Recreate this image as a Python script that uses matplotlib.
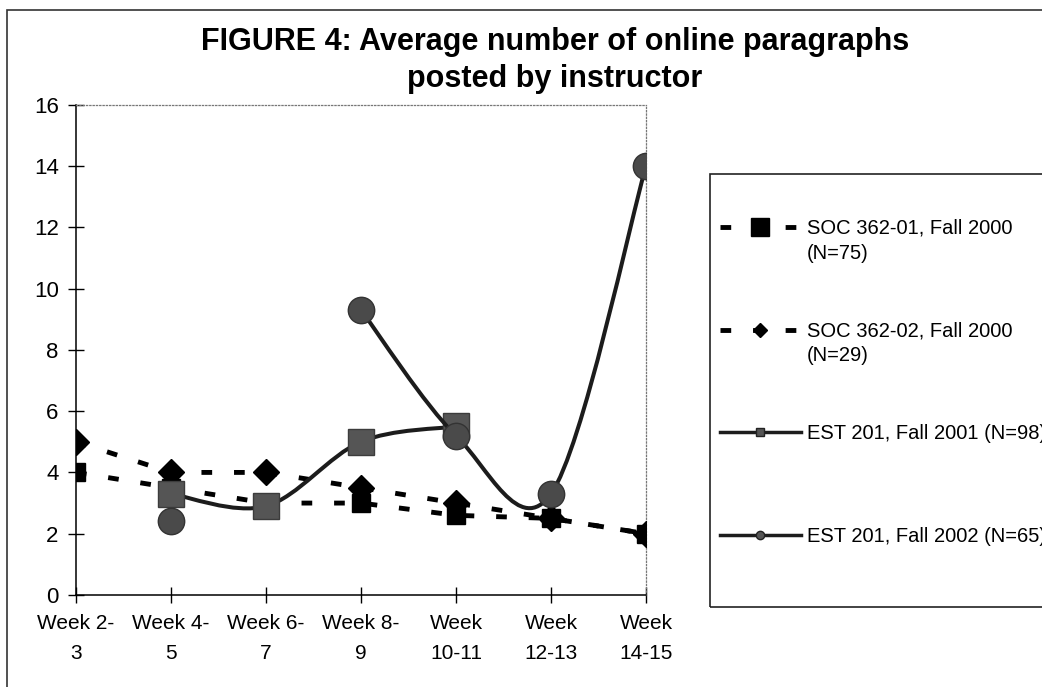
import numpy as np
import matplotlib.pyplot as plt
from matplotlib.path import Path
from matplotlib.patches import PathPatch, Rectangle
from matplotlib.lines import Line2D
from matplotlib.text import Annotation

plt.rcParams['font.family'] = ['Liberation Sans', 'DejaVu Sans']

# data
weeks = ['Week 2-\n3', 'Week 4-\n5', 'Week 6-\n7', 'Week 8-\n9',
         'Week\n10-11', 'Week\n12-13', 'Week\n14-15']
soc_01 = [4.0, 3.5, 3.0, 3.0, 2.6, 2.5, 2.0]
soc_02 = [5.0, 4.0, 4.0, 3.5, 3.0, 2.5, 2.0]
est_2001 = [np.nan, 3.3, 2.9, 5.0, 5.5, np.nan, np.nan]
est_2002 = [np.nan, 2.4, np.nan, 9.3, 5.2, 3.3, 14.0]
series_names = ['SOC 362-01, Fall 2000', 'SOC 362-02, Fall 2000',
                'EST 201, Fall 2001 (N=98)', 'EST 201, Fall 2002 (N=65)']
second_lines = ['(N=75)', '(N=29)', None, None]
title = 'FIGURE 4: Average number of online paragraphs\nposted by instructor'


def smooth_path(xs, ys):
    # excel-like smoothed line: catmull-rom segments as cubic beziers
    xs = np.asarray(xs, float)
    ys = np.asarray(ys, float)
    verts, codes = [], []
    run = []
    for i in range(len(ys) + 1):
        if i < len(ys) and not np.isnan(ys[i]):
            run.append(i)
            continue
        if len(run) > 1:
            pts = np.column_stack([xs[run], ys[run]])
            verts.append(pts[0])
            codes.append(Path.MOVETO)
            n = len(pts)
            for k in range(n - 1):
                p0 = pts[max(k - 1, 0)]
                p1 = pts[k]
                p2 = pts[k + 1]
                p3 = pts[min(k + 2, n - 1)]
                verts += [p1 + (p2 - p0) / 6, p2 - (p3 - p1) / 6, p2]
                codes += [Path.CURVE4] * 3
        run = []
    return Path(verts, codes)


fig = plt.figure(figsize=(10.42, 6.87), dpi=100)
ax = fig.add_axes([76 / 1042, 1 - 595 / 687, (646 - 76) / 1042, (595 - 104.7) / 687])
x = np.arange(len(weeks))

dash = (2.2, 4.5)
ax.plot(x, soc_01, color='black', lw=3.5, dashes=dash, dash_capstyle='butt', zorder=2)
ax.plot(x, soc_01, ls='none', marker='s', ms=13, color='black', zorder=2.1)
ax.plot(x, soc_02, color='black', lw=3.5, dashes=dash, dash_capstyle='butt', zorder=3)
ax.plot(x, soc_02, ls='none', marker='D', ms=13.5, color='black', zorder=3.1)

ax.add_patch(PathPatch(smooth_path(x, est_2001), fill=False, ec='#1c1c1c', lw=2.9, zorder=4))
ax.plot(x, est_2001, ls='none', marker='s', ms=19, mfc='#555555', mec='#3c3c3c', zorder=4.1)
ax.add_patch(PathPatch(smooth_path(x, est_2002), fill=False, ec='#1c1c1c', lw=2.9, zorder=5))
ax.plot(x, est_2002, ls='none', marker='o', ms=19, mfc='#4a4a4a', mec='#333333', zorder=5.1)

ax.set_xlim(0, 6)
ax.set_ylim(0, 16)
ax.set_yticks(range(0, 17, 2))
ax.set_xticks(x)
ax.set_xticklabels(weeks, linespacing=1.75)
ax.tick_params(axis='both', direction='inout', length=11, width=1, color='black', pad=7)
ax.tick_params(axis='x', pad=8)
ax.tick_params(axis='y', labelsize=16)
ax.tick_params(axis='x', labelsize=15)
for s in ['left', 'bottom']:
    ax.spines[s].set_color('black')
    ax.spines[s].set_linewidth(1.1)
for s in ['top', 'right']:
    ax.spines[s].set_color('#777777')
    ax.spines[s].set_linestyle(':')
    ax.spines[s].set_linewidth(0.9)

fig.text(555 / 1042, 1 - 87 / 687, title, ha='center', va='baseline', fontsize=22,
         fontweight='bold', linespacing=1.3, multialignment='center')

# chart border and legend box
fig.add_artist(Rectangle((7 / 1042, -0.1), 1.5, 1.1 - 10 / 687, transform=fig.transFigure,
                         fill=False, lw=1.2, ec='#333333'))
fig.add_artist(Rectangle((710 / 1042, 1 - 607 / 687), 1.0, (607 - 174) / 687,
                         transform=fig.transFigure, fill=False, lw=1.2, ec='#222222'))

handles = [
    Line2D([], [], color='black', lw=3.5, dashes=dash, dash_capstyle='butt',
           marker='s', ms=13),
    Line2D([], [], color='black', lw=3.5, dashes=dash, dash_capstyle='butt',
           marker='D', ms=7),
    Line2D([], [], color='#1c1c1c', lw=2.5, marker='s', ms=6, mfc='#555555', mec='#222222'),
    Line2D([], [], color='#1c1c1c', lw=2.5, marker='o', ms=6, mfc='#555555', mec='#222222'),
]
leg = fig.legend(handles, series_names, loc='upper left',
                 bbox_to_anchor=(720 / 1042, 1 - 219 / 687), bbox_transform=fig.transFigure,
                 frameon=False, borderpad=0, borderaxespad=0, handlelength=4,
                 handletextpad=0.3, labelspacing=4.15, fontsize=14.5)
for t, extra in zip(leg.get_texts(), second_lines):
    if extra:
        ann = Annotation(extra, xy=(0, 0), xycoords=t, xytext=(0, -4),
                         textcoords='offset points', va='top', ha='left', fontsize=14.5)
        ann.set_zorder(10)
        fig.add_artist(ann)

plt.savefig('out.png', dpi=100)
